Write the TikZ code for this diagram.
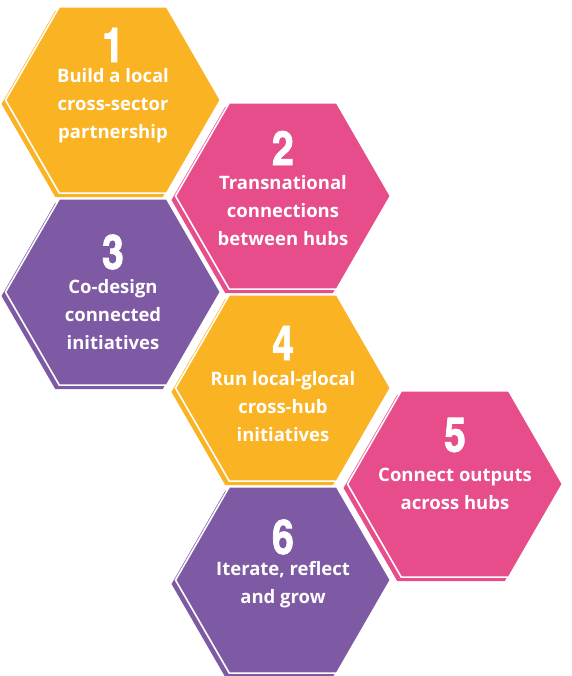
\documentclass[tikz,border=0pt]{standalone}
\usepackage{fontspec}
\setmainfont{Open Sans}
\newfontfamily\numfont{texgyreheroscn-bold.otf}[FakeBold=1.5]
\usepackage{tikz}
\usetikzlibrary{shapes.geometric,shadows}
\definecolor{hexgold}{RGB}{250,179,35}
\definecolor{hexpink}{RGB}{231,77,138}
\definecolor{hexpurple}{RGB}{126,89,164}

\begin{document}
\begin{tikzpicture}[x=1pt,y=1pt,
 hexa/.style={regular polygon,regular polygon sides=6,
 minimum size=215pt,inner sep=0pt,draw=white,line width=1.6pt},
 goldhex/.style={hexa,fill=hexgold,
 drop shadow={shadow xshift=-4pt,shadow yshift=-4pt,fill=hexgold,opacity=1}},
 pinkhex/.style={hexa,fill=hexpink,
 drop shadow={shadow xshift=-4pt,shadow yshift=-4pt,fill=hexpink,opacity=1}},
 purplehex/.style={hexa,fill=hexpurple,
 drop shadow={shadow xshift=-4pt,shadow yshift=-4pt,fill=hexpurple,opacity=1}},
 num/.style={text=white,inner sep=0pt,font=\numfont\fontsize{48}{48}\selectfont},
 txt/.style={text=white,align=center,inner sep=0pt,
 font=\bfseries\fontsize{18.5}{28}\selectfont}]
\useasboundingbox (0,0) rectangle (571,676);
\node[goldhex] (h1) at (113,576) {};
\node[pinkhex] (h2) at (283,480) {};
\node[purplehex] (h3) at (113,384) {};
\node[goldhex] (h4) at (283,288) {};
\node[pinkhex] (h5) at (455,192) {};
\node[purplehex] (h6) at (283,96) {};
\node[num] (n1) at (113,631) {1};
\node[txt] (t1) at (113,570) {Build a local\\cross-sector\\partnership};
\node[num] (n2) at (283,528) {2};
\node[txt] (t2) at (283,465) {Transnational\\connections\\between hubs};
\node[num] (n3) at (113,424) {3};
\node[txt] (t3) at (113,361) {Co-design\\connected\\initiatives};
\node[num] (n4) at (283,333) {4};
\node[txt] (t4) at (283,269) {Run local-glocal\\cross-hub\\initiatives};
\node[num] (n5) at (455,241) {5};
\node[txt] (t5) at (455,187) {Connect outputs\\across hubs};
\node[num] (n6) at (283,139) {6};
\node[txt] (t6) at (283,91) {Iterate, reflect\\and grow};
\end{tikzpicture}
\end{document}
